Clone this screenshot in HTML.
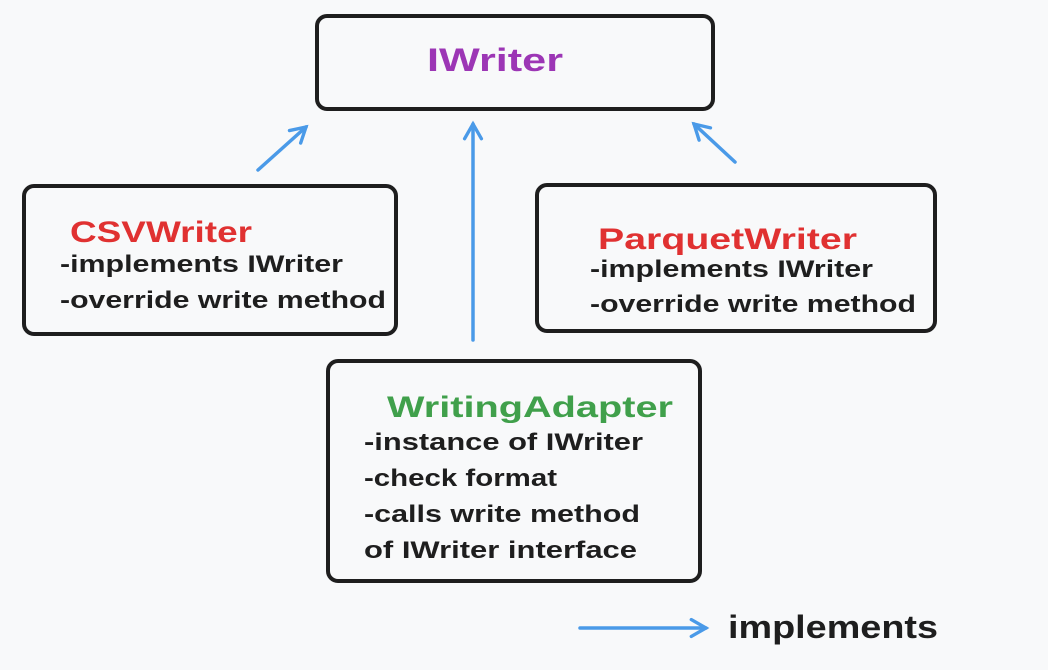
<!DOCTYPE html>
<html><head><meta charset="utf-8"><style>
html,body{margin:0;padding:0;background:#f8f9fa;}
svg{display:block}
text{font-family:"Liberation Sans",sans-serif;font-weight:bold;}
</style></head><body>
<svg width="1048" height="670" viewBox="0 0 1048 670" xmlns="http://www.w3.org/2000/svg">
<rect width="1048" height="670" fill="#f8f9fa"/>
<defs>
<marker id="ah" viewBox="0 0 10 10" refX="8" refY="5" markerWidth="6" markerHeight="6" orient="auto-start-reverse">
<path d="M1,1 L8,5 L1,9" fill="none" stroke="#4a9ae8" stroke-width="1.6" stroke-linecap="round"/>
</marker>
</defs>
<g fill="none" stroke="#1e1e1e" stroke-width="4">
<rect x="317" y="16" width="396" height="93" rx="10"/>
<rect x="24" y="186" width="372" height="148" rx="10"/>
<rect x="537" y="185" width="398" height="146" rx="10"/>
<rect x="328" y="361" width="372" height="220" rx="10"/>
</g>
<g stroke="#4a9ae8" stroke-width="3.5" fill="none" stroke-linecap="round" marker-end="url(#ah)">
<line x1="258" y1="170" x2="306" y2="127"/>
<line x1="473" y1="340" x2="473" y2="124"/>
<line x1="735" y1="162" x2="694" y2="124"/>
<line x1="580" y1="628" x2="706" y2="628"/>
</g>
<text x="427" y="71" font-size="32" fill="#9c36b5" textLength="136" lengthAdjust="spacingAndGlyphs">IWriter</text>
<text x="70" y="242" font-size="30" fill="#e03131" textLength="182" lengthAdjust="spacingAndGlyphs">CSVWriter</text>
<text x="60" y="272" font-size="24" fill="#1e1e1e" textLength="283" lengthAdjust="spacingAndGlyphs">-implements IWriter</text>
<text x="60" y="308" font-size="24" fill="#1e1e1e" textLength="326" lengthAdjust="spacingAndGlyphs">-override write method</text>
<text x="598" y="249" font-size="30" fill="#e03131" textLength="259" lengthAdjust="spacingAndGlyphs">ParquetWriter</text>
<text x="590" y="277" font-size="24" fill="#1e1e1e" textLength="283" lengthAdjust="spacingAndGlyphs">-implements IWriter</text>
<text x="590" y="312" font-size="24" fill="#1e1e1e" textLength="326" lengthAdjust="spacingAndGlyphs">-override write method</text>
<text x="387" y="417" font-size="30" fill="#40a04b" textLength="286" lengthAdjust="spacingAndGlyphs">WritingAdapter</text>
<text x="364" y="450" font-size="24" fill="#1e1e1e" textLength="279" lengthAdjust="spacingAndGlyphs">-instance of IWriter</text>
<text x="364" y="486" font-size="24" fill="#1e1e1e" textLength="193" lengthAdjust="spacingAndGlyphs">-check format</text>
<text x="364" y="522" font-size="24" fill="#1e1e1e" textLength="276" lengthAdjust="spacingAndGlyphs">-calls write method</text>
<text x="364" y="558" font-size="24" fill="#1e1e1e" textLength="273" lengthAdjust="spacingAndGlyphs">of IWriter interface</text>
<text x="728" y="638" font-size="32" fill="#1e1e1e" textLength="210" lengthAdjust="spacingAndGlyphs">implements</text>
</svg>
</body></html>
